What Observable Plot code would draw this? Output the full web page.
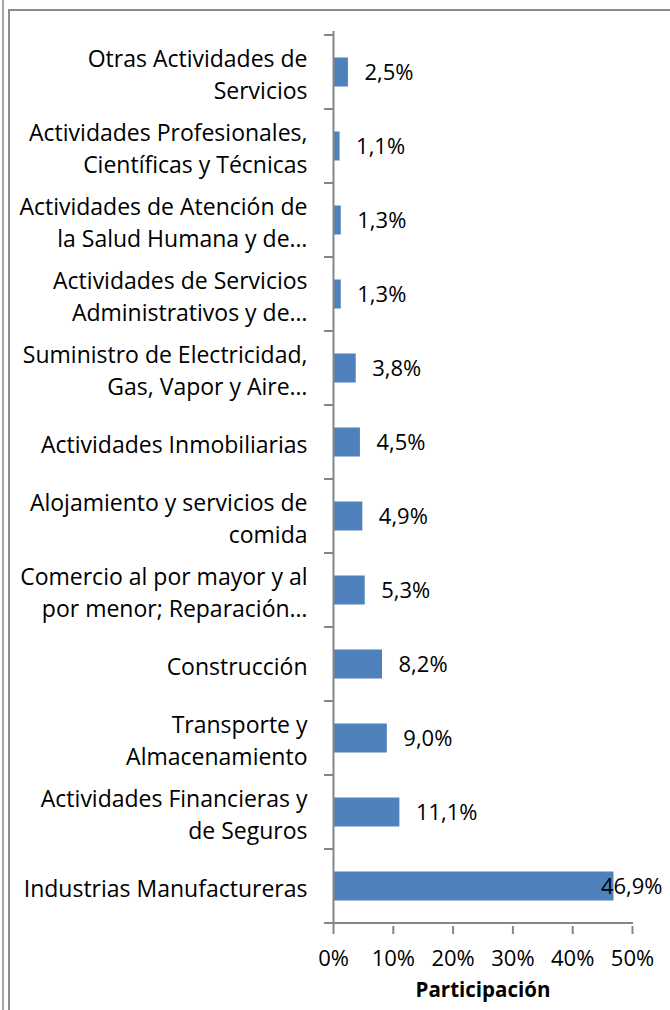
<!DOCTYPE html>
<html>
<head>
<meta charset="utf-8">
<script src="https://cdn.jsdelivr.net/npm/d3@7"></script>
<script src="https://cdn.jsdelivr.net/npm/@observablehq/plot@0.6"></script>
<style>
  html, body { margin: 0; padding: 0; background: #fff; width: 670px; height: 1010px; overflow: hidden; }
  #outer { position: absolute; left: 2px; top: 0; width: 2px; height: 1010px; background: #a6a6a6; }
  #frame { position: absolute; left: 8px; top: 9px; width: 700px; height: 1100px; border-left: 2px solid #8c8c8c; border-top: 2px solid #8c8c8c; }
  #chart { position: absolute; left: 0; top: 0; }
</style>
</head>
<body>
<div id="outer"></div>
<div id="frame"></div>
<div id="chart"></div>
<script>
// ---- data (top to bottom) ----
const categories = [
  "Otras Actividades de Servicios",
  "Actividades Profesionales, Científicas y Técnicas",
  "Actividades de Atención de la Salud Humana y de…",
  "Actividades de Servicios Administrativos y de…",
  "Suministro de Electricidad, Gas, Vapor y Aire…",
  "Actividades Inmobiliarias",
  "Alojamiento y servicios de comida",
  "Comercio al por mayor y al por menor; Reparación…",
  "Construcción",
  "Transporte y Almacenamiento",
  "Actividades Financieras y de Seguros",
  "Industrias Manufactureras"
];
const tickLabels = [
  "Otras Actividades de\nServicios",
  "Actividades Profesionales,\nCientíficas y Técnicas",
  "Actividades de Atención de\nla Salud Humana y de…",
  "Actividades de Servicios\nAdministrativos y de…",
  "Suministro de Electricidad,\nGas, Vapor y Aire…",
  "Actividades Inmobiliarias",
  "Alojamiento y servicios de\ncomida",
  "Comercio al por mayor y al\npor menor; Reparación…",
  "Construcción",
  "Transporte y\nAlmacenamiento",
  "Actividades Financieras y\nde Seguros",
  "Industrias Manufactureras"
];
const values = [2.5, 1.1, 1.3, 1.3, 3.8, 4.5, 4.9, 5.3, 8.2, 9.0, 11.1, 46.9];
const xTicks = [0, 10, 20, 30, 40, 50];
const xTitle = "Participación";

const data = categories.map((c, i) => ({cat: c, label: tickLabels[i], value: values[i]}));
const fmt = v => v.toFixed(1).replace(".", ",") + "%";

const axisGray = "#868686";
const barBlue = "#4F81BD";
const fs = 23;

// tick marks at category boundaries (Excel style) + x axis baseline
function axisLines(index, scales, values, dimensions) {
  const y = scales.y, x = scales.x;
  const {width, marginLeft, marginRight, marginTop, marginBottom, height} = dimensions;
  const n = categories.length;
  const step = (y && typeof y.step === "function") ? y.step() : (height - marginTop - marginBottom) / n;
  const starts = categories.map(c => (y ? y(c) : NaN));
  const pos = starts.every(Number.isFinite) ? starts.concat([starts[n - 1] + step])
    : d3.range(n + 1).map(k => marginTop + k * step);
  const bottom = pos[n];
  const x0 = x ? x(xTicks[0]) : marginLeft;
  const x1 = x ? x(xTicks[xTicks.length - 1]) : width - marginRight;
  const g = d3.create("svg:g");
  g.selectAll("line.t").data(pos).join("line")
    .attr("x1", x0 - 9).attr("x2", x0)
    .attr("y1", d => d).attr("y2", d => d)
    .attr("stroke", axisGray).attr("stroke-width", 2);
  g.append("line")
    .attr("x1", x0 - 9).attr("x2", x1 + 1)
    .attr("y1", bottom).attr("y2", bottom)
    .attr("stroke", axisGray).attr("stroke-width", 2);
  return g.node();
}

const chart = Plot.plot({
  width: 670,
  height: 1010,
  marginLeft: 333,
  marginRight: 38,
  marginTop: 31,
  marginBottom: 84,
  style: {fontFamily: "'Open Sans', 'Liberation Sans', Arial, sans-serif", fontSize: fs + "px", background: "transparent", color: "#000"},
  x: {domain: [0, 50], axis: null, label: null},
  y: {domain: categories, padding: 0, axis: null, label: null},
  marks: [
    Plot.barX(data, {x: "value", y: "cat", fill: barBlue, insetTop: 22.5, insetBottom: 22.5}),
    // category labels
    Plot.text(data, {y: "cat", text: "label", frameAnchor: "left", textAnchor: "end", dx: -26, lineHeight: 1.38, fontSize: fs, fill: "#000"}),
    // value labels
    Plot.text(data.filter(d => d.value < 40), {x: "value", y: "cat", text: d => fmt(d.value), textAnchor: "start", dx: 16, fontSize: 22, fill: "#000"}),
    Plot.text(data.filter(d => d.value >= 40), {y: "cat", text: d => fmt(d.value), frameAnchor: "right", textAnchor: "end", dx: 30, fontSize: 22, fill: "#000"}),
    // x axis
    Plot.axisX({ticks: xTicks, tickSize: 8, text: null, label: null, stroke: axisGray, strokeWidth: 2}),
    Plot.axisX({ticks: xTicks, tickSize: 0, tickPadding: 24, label: null, tickFormat: d => d + "%", fontSize: 22, fill: "#000"}),
    // y axis line
    Plot.ruleX([0], {stroke: axisGray, strokeWidth: 2}),
    axisLines,
    // x title
    Plot.text([xTitle], {frameAnchor: "bottom", text: d => d, dy: 70, fontWeight: "bold", fontSize: 20.5, fill: "#000"})
  ]
});
document.getElementById("chart").appendChild(chart);
</script>
</body>
</html>
